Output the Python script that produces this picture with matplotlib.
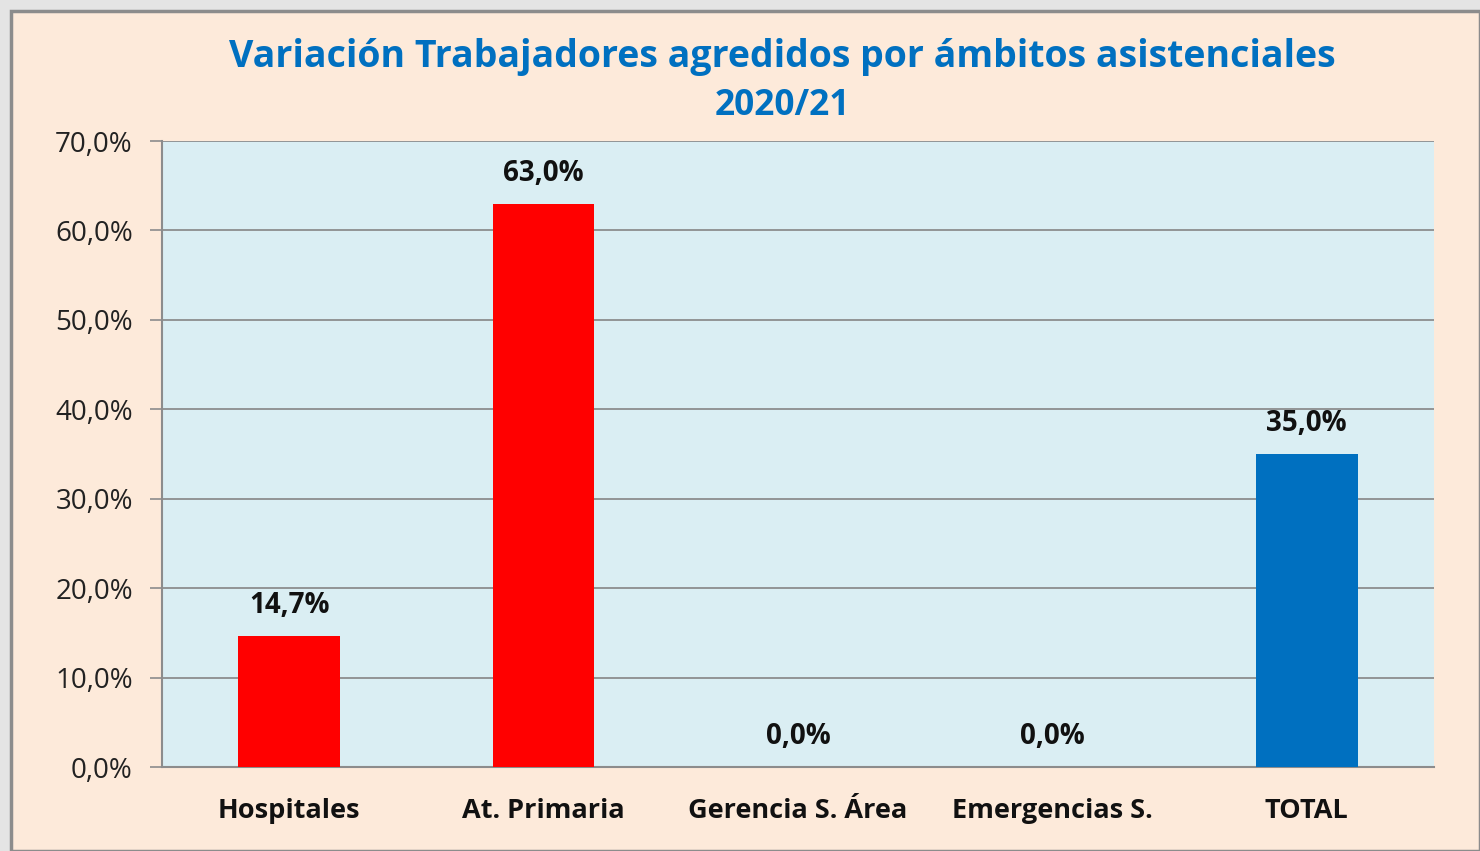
import matplotlib.pyplot as plt
from matplotlib.patches import Rectangle
from matplotlib.ticker import FuncFormatter

categorias = ['Hospitales', 'At. Primaria', 'Gerencia S. Área', 'Emergencias S.', 'TOTAL']
valores = [14.7, 63.0, 0.0, 0.0, 35.0]
colores = ['#FF0000', '#FF0000', '#FF0000', '#FF0000', '#0070C0']
yticks = [0, 10, 20, 30, 40, 50, 60, 70]

W, H = 1480, 851
fig = plt.figure(figsize=(W / 100, H / 100), dpi=100)
fig.patch.set_facecolor('#E4E4E4')

# marco del grafico
fig.patches.append(Rectangle((11 / W, 0), 1 - 11 / W, 1 - 11 / H, transform=fig.transFigure,
                             facecolor='#FDEADA', edgecolor='#8C8C8C', linewidth=2.5, zorder=-10))

ax = fig.add_axes([162 / W, 1 - 767 / H, (1434 - 162) / W, (767 - 141) / H])
ax.set_facecolor('#DAEEF3')

x = range(len(categorias))
ax.bar(x, valores, width=0.4, color=colores, zorder=3)

for xi, v in zip(x, valores):
    ax.text(xi, v + 1.75, f'{v:.1f}%'.replace('.', ','), ha='center', va='bottom',
            fontsize=20, fontweight='bold', family='Open Sans', color='#111111')

ax.set_xlim(-0.5, len(categorias) - 0.5)
ax.set_ylim(0, 70)
ax.set_yticks(yticks)
ax.yaxis.set_major_formatter(FuncFormatter(lambda v, p: f'{v:.1f}%'.replace('.', ',')))
ax.grid(axis='y', color='#858585', linewidth=1.2, zorder=1)
ax.set_axisbelow(True)
ax.set_xticks(list(x))
ax.set_xticklabels(categorias, fontsize=19.5, fontweight='bold', family='Open Sans', color='#111111')
for lab in ax.get_yticklabels():
    lab.set_family('Open Sans')
    lab.set_fontsize(20)
    lab.set_color('#222222')
ax.tick_params(axis='y', length=9, width=1.2, color='#8C8C8C', pad=12)
ax.tick_params(axis='x', length=0, pad=22)

for s in ['top', 'right']:
    ax.spines[s].set_visible(False)
for s in ['left', 'bottom']:
    ax.spines[s].set_color('#8C8C8C')
    ax.spines[s].set_linewidth(1.5)

fig.text(782 / W, 1 - 57 / H, 'Variación Trabajadores agredidos por ámbitos asistenciales',
         ha='center', va='center', fontsize=27, fontweight='bold', family='Open Sans', color='#0070C0')
fig.text(782 / W, 1 - 106 / H, '2020/21', ha='center', va='center', fontsize=25.5,
         fontweight='bold', family='Open Sans', color='#0070C0')

fig.savefig('out.png', dpi=100, facecolor=fig.get_facecolor())
